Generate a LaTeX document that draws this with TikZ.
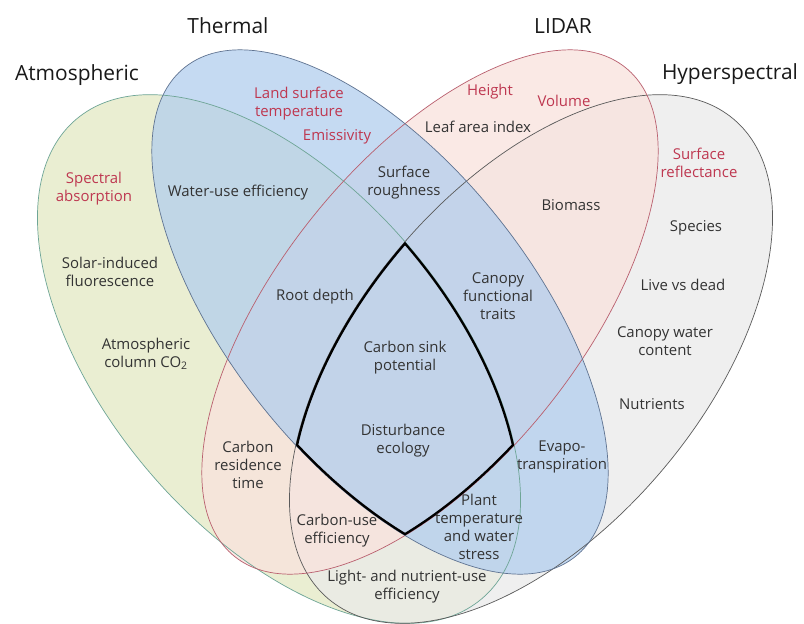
\documentclass[tikz,border=0pt]{standalone}
\usepackage{fontspec}
\setmainfont{Open Sans}
\usepackage{tikz}
\usetikzlibrary{positioning}

\definecolor{atmfill}{RGB}{227,233,196}
\definecolor{thmfill}{RGB}{178,206,238}
\definecolor{lidfill}{RGB}{249,226,221}
\definecolor{hypfill}{RGB}{234,234,234}
\definecolor{atmline}{RGB}{110,165,150}
\definecolor{thmline}{RGB}{95,115,145}
\definecolor{lidline}{RGB}{185,95,110}
\definecolor{hypline}{RGB}{90,90,90}
\definecolor{propred}{RGB}{190,55,80}

% the four sensor ellipses
\newcommand\atmpath{(279,359) ellipse [x radius=314, y radius=172, rotate=-49.8]}
\newcommand\hyppath{(531,359) ellipse [x radius=314, y radius=172, rotate=49.8]}
\newcommand\thmpath{(380,312) ellipse [x radius=313, y radius=151, rotate=-51.4]}
\newcommand\lidpath{(430,312) ellipse [x radius=313, y radius=151, rotate=51.4]}

\begin{document}
\begin{tikzpicture}[x=1bp, y=-1bp,
  ttl/.style={font=\fontsize{21}{25}\selectfont, text=black!90, inner sep=0pt},
  lbl/.style={align=center, font=\fontsize{15}{18}\selectfont, text=black!80, inner sep=0pt},
  prop/.style={lbl, text=propred},
  rim/.style={line width=0.7bp},
  core/.style={line width=4.6bp, black},
]
  \fill[white] (0,0) rectangle (804,624);
  \useasboundingbox (0,0) rectangle (804,624);

  % ── Fills ──
  \fill[atmfill, fill opacity=0.75] \atmpath;
  \fill[hypfill, fill opacity=0.75] \hyppath;
  \fill[lidfill, fill opacity=0.75] \lidpath;
  \fill[thmfill, fill opacity=0.75] \thmpath;

  % ── Outlines ──
  \draw[rim, atmline] \atmpath;
  \draw[rim, hypline] \hyppath;
  \draw[rim, lidline] \lidpath;
  \draw[rim, thmline] \thmpath;

  % ── Core region (all four) ──
  \begin{scope}
    \clip \atmpath; \clip \hyppath; \clip \thmpath; \clip \lidpath;
    \draw[core] \atmpath \hyppath \thmpath \lidpath;
  \end{scope}

  % ── Titles ──
  \node[ttl] (atmos)  at (77,75)  {Atmospheric};
  \node[ttl] (thermal) at (228,26) {Thermal};
  \node[ttl] (lidar)  at (563,26) {LIDAR};
  \node[ttl] (hyper)  at (730,74) {Hyperspectral};

  % ── Atmospheric ──
  \node[prop] (specabs) at (94,189)  {Spectral\\absorption};
  \node[lbl]  (sif)     at (110,272) {Solar-induced\\fluorescence};
  \node[lbl]  (co2)     at (146,354) {Atmospheric\\column CO\textsubscript{2}};

  % ── Thermal ──
  \node[prop] (lst)  at (299,104) {Land surface\\temperature};
  \node[prop] (emis) at (337,137) {Emissivity};
  \node[lbl]  (wue)  at (238,193) {Water-use efficiency};

  % ── LIDAR ──
  \node[prop] (height)  at (490,92)  {Height};
  \node[prop] (volume)  at (564,101) {Volume};
  \node[lbl]  (lai)     at (478,127) {Leaf area index};
  \node[lbl]  (biomass) at (571,205) {Biomass};

  % ── Hyperspectral ──
  \node[prop] (surfref)  at (699,163) {Surface\\reflectance};
  \node[lbl]  (species)  at (696,228) {Species};
  \node[lbl]  (livedead) at (683,285) {Live vs dead};
  \node[lbl]  (cwc)      at (665,341) {Canopy water\\content};
  \node[lbl]  (nutr)     at (652,404) {Nutrients};

  % ── Overlaps ──
  \node[lbl] (rough)   at (404,183) {Surface\\roughness};
  \node[lbl] (rootd)   at (315,297) {Root depth};
  \node[lbl] (cft)     at (498,296) {Canopy\\functional\\traits};
  \node[lbl] (sink)    at (405,358) {Carbon sink\\potential};
  \node[lbl] (disturb) at (403,441) {Disturbance\\ecology};
  \node[lbl] (cres)    at (248,465) {Carbon\\residence\\time};
  \node[lbl] (evapo)   at (562,457) {Evapo-\\transpiration};
  \node[lbl] (cue)     at (337,531) {Carbon-use\\efficiency};
  \node[lbl] (ptws)    at (479,527) {Plant\\temperature\\and water\\stress};
  \node[lbl] (lnue)    at (407,587) {Light- and nutrient-use\\efficiency};

\end{tikzpicture}
\end{document}
